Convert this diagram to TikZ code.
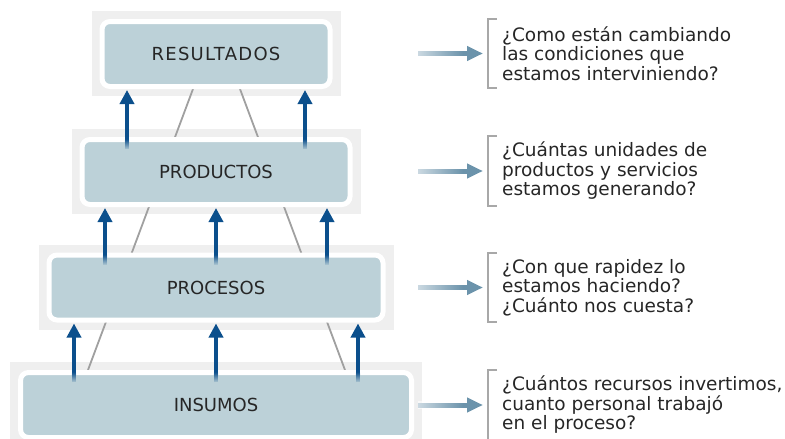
\documentclass[tikz,border=0pt]{standalone}
\usepackage{fontspec}
\setmainfont{DejaVu Sans}
\usetikzlibrary{arrows.meta, fadings, positioning}
\definecolor{boxfill}{HTML}{BCD1D8}
\definecolor{upblue}{HTML}{0B4F8C}
\definecolor{sideblue}{HTML}{6B93AB}
\definecolor{bracketgray}{HTML}{A8A8A8}
\definecolor{strutgray}{HTML}{A0A0A0}
\definecolor{labelgray}{HTML}{262626}
\definecolor{shadegray}{HTML}{EFEFEF}
\tikzfading[name=fade up, top color=transparent!100, bottom color=transparent!0]
\tikzfading[name=fade right, left color=transparent!35, right color=transparent!100]
\pgfdeclarelayer{shade}
\pgfdeclarelayer{struts}
\pgfsetlayers{shade,struts,main}
\tikzstyle{level}     = [draw=white, line width=5pt, fill=boxfill, rounded corners=8pt, minimum height=65pt, text=labelgray, font=\fontsize{18}{20}\selectfont]
\tikzstyle{uparrow}   = [upblue, line width=3.5pt, -{Triangle[width=14pt,length=14pt]}]
\tikzstyle{sidearrow} = [sideblue, line width=5pt, -{Triangle[width=14pt,length=16pt]}]
\tikzstyle{strut}     = [strutgray, line width=1.8pt]
\tikzstyle{bracket}   = [bracketgray, line width=2pt]
\tikzstyle{question}  = [anchor=west, minimum height=69pt, inner xsep=14pt, inner ysep=0pt, align=left, text=labelgray, font=\fontsize{18.5}{19.5}\selectfont]
\begin{document}
\begin{tikzpicture}[x=1pt, y=-1pt]
        \useasboundingbox (0,0) rectangle (785,439);
        \clip (0,0) rectangle (785,439);

        % Niveles
        \node[level, minimum width=228pt] (res)  at (216,54)    {\addfontfeature{LetterSpace=7}RESULTADOS};
        \node[level, minimum width=268pt] (prod) at (216,172)   {PRODUCTOS};
        \node[level, minimum width=334pt] (proc) at (216,287.5) {PROCESOS};
        \node[level, minimum width=391pt] (ins)  at (216,405)   {INSUMOS};

        % Fondo
        \begin{pgfonlayer}{shade}
            \foreach \lvl in {res,prod,proc,ins}
                \fill[shadegray] ([shift={(-8pt,8pt)}]\lvl.north west) rectangle ([shift={(8pt,-7pt)}]\lvl.south east);
        \end{pgfonlayer}

        % Piramide
        \begin{pgfonlayer}{struts}
            \draw[strut] ([xshift=-23pt]res.south) -- ([xshift=-128pt]ins.north);
            \draw[strut] ([xshift=24pt]res.south) -- ([xshift=129pt]ins.north);
        \end{pgfonlayer}

        % Flechas entre niveles
        \foreach \dx in {-89pt,89pt} {
            \draw[uparrow] ([xshift=\dx, yshift=-12pt]prod.north) -- ([xshift=\dx, yshift=-1pt]res.south);
            \fill[boxfill, path fading=fade up] ([xshift=\dx-3pt, yshift=-2pt]prod.north) rectangle ([xshift=\dx+3pt, yshift=-13pt]prod.north);
        }
        \foreach \dx in {-111pt,0pt,111pt} {
            \draw[uparrow] ([xshift=\dx, yshift=-12pt]proc.north) -- ([xshift=\dx, yshift=-1pt]prod.south);
            \fill[boxfill, path fading=fade up] ([xshift=\dx-3pt, yshift=-2pt]proc.north) rectangle ([xshift=\dx+3pt, yshift=-13pt]proc.north);
        }
        \foreach \dx in {-142pt,0pt,142pt} {
            \draw[uparrow] ([xshift=\dx, yshift=-12pt]ins.north) -- ([xshift=\dx, yshift=-1pt]proc.south);
            \fill[boxfill, path fading=fade up] ([xshift=\dx-3pt, yshift=-2pt]ins.north) rectangle ([xshift=\dx+3pt, yshift=-13pt]ins.north);
        }

        % Preguntas
        \node[question] (q1) at (488,53.5)  {¿Como están cambiando\\las condiciones que\\estamos interviniendo?};
        \node[question] (q2) at (488,171)   {¿Cuántas unidades de\\productos y servicios\\estamos generando?};
        \node[question] (q3) at (488,287.5) {¿Con que rapidez lo\\estamos haciendo?\\¿Cuánto nos cuesta?};
        \node[question] (q4) at (488,405)   {¿Cuántos recursos invertimos,\\cuanto personal trabajó\\en el proceso?};

        \foreach \q in {q1,q2,q3,q4} {
            \draw[bracket] ([xshift=9pt]\q.north west) -| (\q.south west) -- ++(9,0);
            \coordinate (s\q) at ([xshift=-70pt]\q.west);
            \draw[sidearrow] (s\q) -- ([xshift=-5pt]\q.west);
            \fill[white, path fading=fade right] ([yshift=4pt]s\q) rectangle ([shift={(45pt,-4pt)}]s\q);
        }

    \end{tikzpicture}
\end{document}
